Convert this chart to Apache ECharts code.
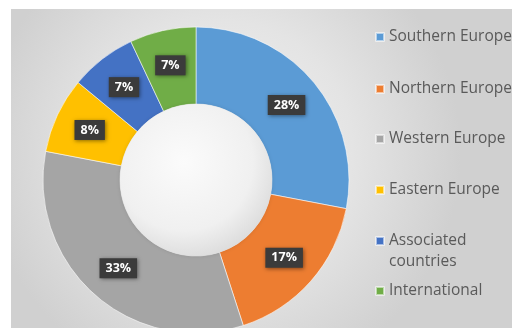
<!DOCTYPE html>
<html>
<head>
<meta charset="utf-8">
<style>
  html, body { margin: 0; padding: 0; background: #ffffff; }
  #chart { width: 512px; height: 328px; }
</style>
<script src="https://cdn.jsdelivr.net/npm/echarts@6/dist/echarts.min.js"></script>
</head>
<body>
<div id="chart"></div>
<script>
// Regions and their share of the total (percent)
const regions = ['Southern Europe', 'Northern Europe', 'Western Europe', 'Eastern Europe', 'Associated countries', 'International'];
const shares = [28, 17, 33, 8, 7, 7];
// Legend text (Associated countries wraps onto two lines)
const legendLabels = ['Southern Europe', 'Northern Europe', 'Western Europe', 'Eastern Europe', 'Associated\ncountries', 'International'];

const palette = ['#5B9BD5', '#ED7D31', '#A5A5A5', '#FFC000', '#4472C4', '#70AD47'];

// Layout
const CX = 196, CY = 180, R_IN = 76, R_OUT = 153;
const LEGEND_LEFT = 375;
const LEGEND_CENTERS = [37, 89, 139, 190, 241, 291];
const LINE_H = 21;

const chart = echarts.init(document.getElementById('chart'), null, { renderer: 'canvas' });

const legends = regions.map((name, i) => {
  const twoLine = legendLabels[i].indexOf('\n') >= 0;
  // a leading empty line keeps the first text line level with the swatch
  const text = twoLine ? '\n' + legendLabels[i] : legendLabels[i];
  return {
    data: [name],
    orient: 'vertical',
    left: LEGEND_LEFT,
    top: LEGEND_CENTERS[i] - LINE_H / 2 - (twoLine ? LINE_H : 0),
    padding: 0,
    itemWidth: 8,
    itemHeight: 8,
    itemGap: 0,
    icon: 'rect',
    selectedMode: false,
    formatter: () => text,
    textStyle: {
      fontFamily: 'Open Sans',
      fontSize: 15.5,
      color: '#5a5a5a',
      lineHeight: LINE_H
    }
  };
});

chart.setOption({
  animation: false,
  color: palette,
  graphic: [{
    type: 'rect',
    z: -10,
    silent: true,
    shape: { x: 11, y: 9, width: 501, height: 319 },
    style: {
      fill: new echarts.graphic.RadialGradient(0.42, 0.45, 0.75, [
        { offset: 0, color: '#f2f2f2' },
        { offset: 0.55, color: '#e4e4e4' },
        { offset: 1, color: '#d0d0d0' }
      ])
    }
  }],
  legend: legends,
  series: [
    {
      type: 'pie',
      center: [CX, CY],
      radius: [R_IN, R_OUT],
      startAngle: 90,
      clockwise: true,
      avoidLabelOverlap: false,
      itemStyle: {
        borderColor: 'rgba(255,255,255,0.55)',
        borderWidth: 1
      },
      label: {
        show: true,
        position: 'inside',
        formatter: '{c}%',
        color: '#ffffff',
        fontFamily: 'Open Sans',
        fontWeight: 'bold',
        fontSize: 12.5,
        backgroundColor: '#3b3b3b',
        padding: [4, 6, 3, 6],
        shadowColor: 'rgba(0,0,0,0.45)',
        shadowBlur: 4,
        shadowOffsetX: 1,
        shadowOffsetY: 1
      },
      labelLine: { show: false },
      emphasis: { disabled: true },
      data: regions.map((name, i) => ({ name, value: shares[i] }))
    },
    {
      // shaded sphere in the donut hole
      type: 'pie',
      center: [CX, CY],
      radius: [0, R_IN],
      silent: true,
      label: { show: false },
      labelLine: { show: false },
      itemStyle: {
        color: new echarts.graphic.RadialGradient(0.42, 0.38, 0.65, [
          { offset: 0, color: '#fbfbfb' },
          { offset: 0.7, color: '#f0f0f0' },
          { offset: 1, color: '#dcdcdc' }
        ]),
        shadowColor: 'rgba(0,0,0,0.12)',
        shadowBlur: 4
      },
      data: [{ name: 'hole', value: 1 }]
    }
  ]
});
</script>
</body>
</html>
